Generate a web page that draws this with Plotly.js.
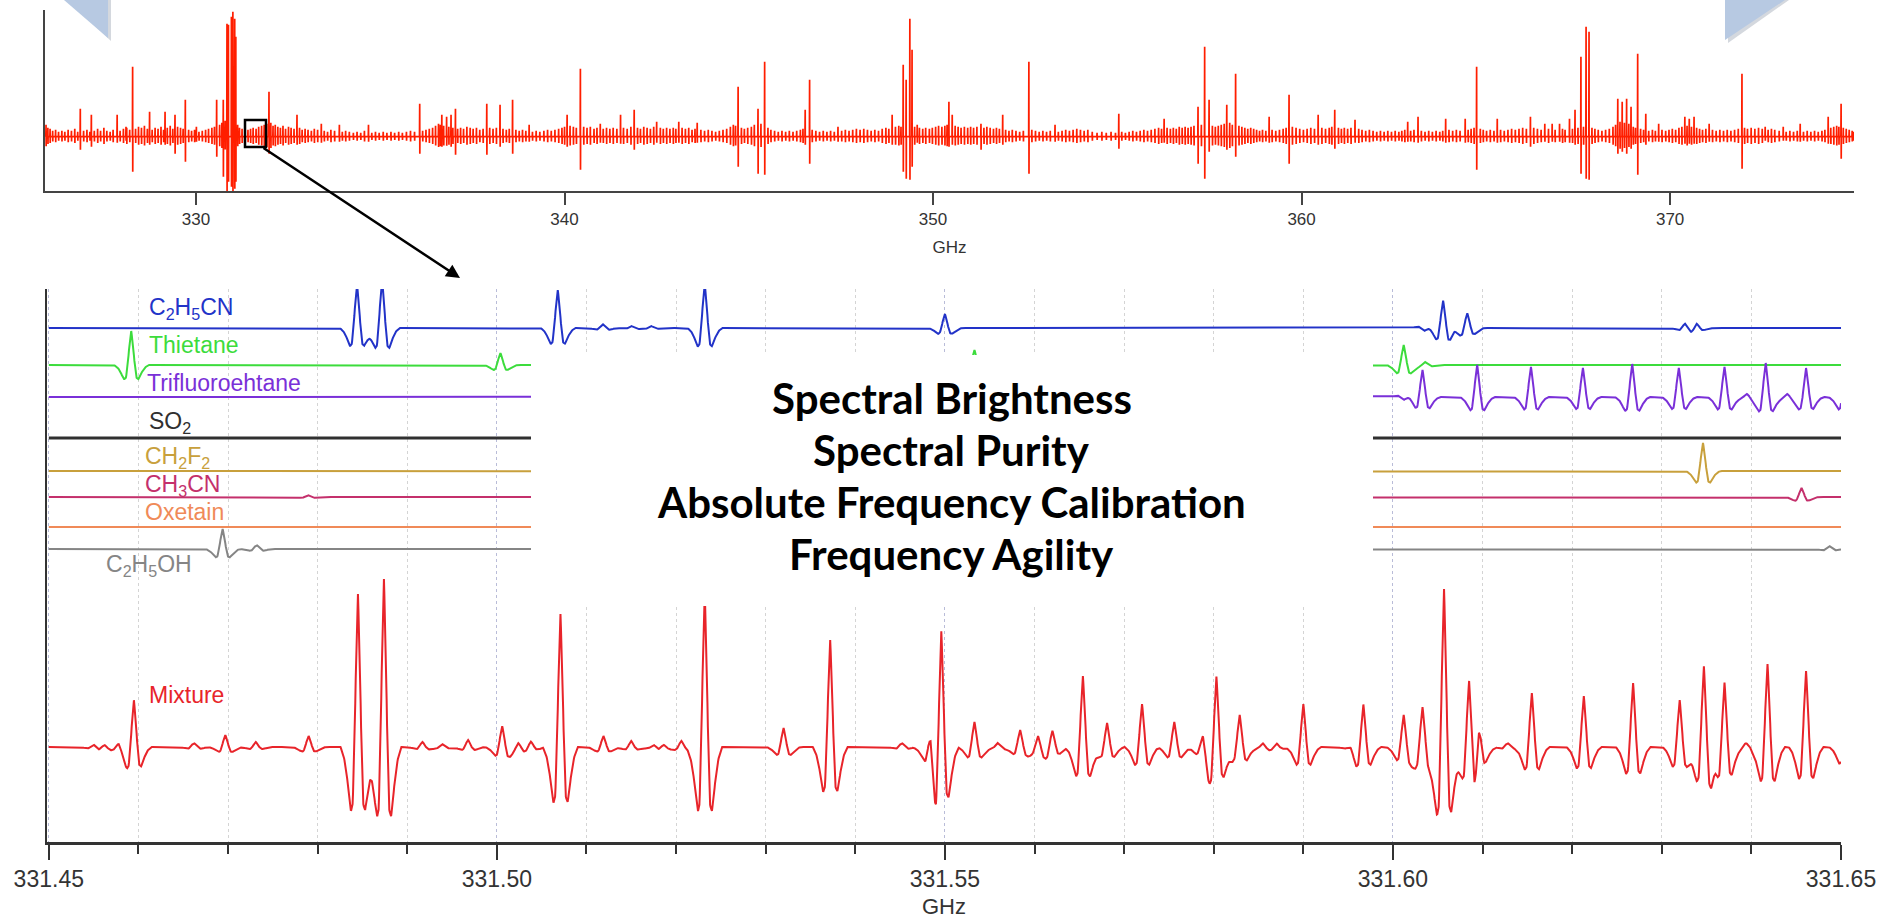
<!DOCTYPE html>
<html><head><meta charset="utf-8">
<script src="https://cdn.plot.ly/plotly-3.0.1.min.js"></script>
<style>html,body{margin:0;padding:0;background:#fff;}#chart{width:1883px;height:919px;}</style>
</head><body><div id="chart"></div>
<script>
// ================= DATA =================
// Overview spectrum 325.9 - 375 GHz : strong lines (GHz, up, down) in arbitrary units
const STRONG_FREQ = [326.86,327.16,327.86,328.10,328.28,328.74,329.16,329.43,329.71,330.01,330.56,330.74,330.84,330.88,330.96,331.00,331.05,331.08,331.98,332.74,333.40,333.89,334.68,336.07,336.67,336.80,336.92,337.04,337.89,338.25,338.59,339.04,340.07,340.43,340.97,341.52,341.89,342.50,343.10,343.60,344.71,345.25,345.43,346.53,346.65,347.42,348.89,349.19,349.27,349.37,349.43,349.57,350.43,350.52,351.30,351.89,352.60,353.31,355.04,356.27,357.19,357.37,357.49,357.97,358.21,359.12,359.66,360.45,360.90,361.45,362.88,363.16,363.91,364.44,364.75,365.31,366.21,366.60,366.80,367.00,367.27,367.42,367.58,367.72,367.80,368.58,368.70,368.82,368.94,369.12,369.34,369.69,370.40,370.52,370.65,371.06,371.95,372.58,373.07,373.53,374.29,374.64];
const STRONG_UP   = [28,22,22,10,70,25,25,22,37,10,37,37,113,112,120,125,118,100,45,22,13,12,12,33,22,20,22,28,33,32,37,12,22,68,13,22,27,15,15,14,50,28,75,27,57,10,22,72,57,118,87,12,35,22,13,22,75,12,23,18,30,90,37,32,63,20,42,22,27,17,15,20,18,18,70,18,20,13,13,13,18,27,80,110,105,38,35,38,30,83,23,13,20,18,20,13,63,10,10,13,20,33];
const STRONG_DOWN = [13,10,6,4,35,8,8,17,25,5,20,40,60,45,50,55,52,45,17,8,6,5,5,17,10,9,10,18,18,10,17,5,10,33,6,7,13,6,6,6,30,37,38,8,27,5,8,35,42,43,30,6,10,8,13,8,37,5,12,6,27,42,15,13,20,6,27,8,12,6,5,6,6,6,33,6,10,5,5,5,6,8,37,42,43,17,15,17,12,38,8,5,7,7,7,5,32,4,4,5,7,22];
// Overview spectrum : weak "grass" lines [GHz, amplitude]
const GRASS_LINES = [[325.93,12],[325.98,9],[326.04,8],[326.11,6],[326.19,7],[326.27,5],[326.36,6],[326.44,5],[326.53,7],[326.62,6],[326.71,8],[326.79,5],[326.95,6],[327.04,7],[327.12,5],[327.24,6],[327.33,8],[327.41,6],[327.50,9],[327.58,6],[327.67,5],[327.75,7],[327.94,6],[328.03,8],[328.12,9],[328.20,7],[328.36,8],[328.44,10],[328.52,9],[328.60,11],[328.68,8],[328.81,7],[328.89,9],[328.97,8],[329.05,10],[329.12,7],[329.22,9],[329.30,11],[329.37,8],[329.50,10],[329.58,9],[329.65,8],[329.80,7],[329.88,6],[329.96,7],[330.08,5],[330.17,6],[330.26,7],[330.34,8],[330.43,9],[330.50,10],[330.64,12],[330.70,14],[330.79,16],[331.13,12],[331.18,9],[331.25,8],[331.33,9],[331.41,7],[331.48,8],[331.55,9],[331.63,8],[331.70,10],[331.78,11],[331.85,12],[331.92,13],[332.03,14],[332.09,11],[332.15,12],[332.22,10],[332.29,9],[332.36,11],[332.43,8],[332.51,10],[332.58,9],[332.66,8],[332.81,9],[332.88,7],[332.96,8],[333.04,7],[333.13,6],[333.21,8],[333.30,7],[333.48,6],[333.57,5],[333.66,7],[333.76,6],[333.97,5],[334.06,6],[334.16,5],[334.27,4],[334.37,5],[334.47,4],[334.57,6],[334.77,4],[334.87,5],[334.97,4],[335.08,5],[335.18,4],[335.29,5],[335.39,4],[335.50,5],[335.60,4],[335.71,5],[335.82,6],[335.93,5],[336.15,6],[336.24,7],[336.33,8],[336.42,9],[336.50,11],[336.58,13],[336.63,12],[336.72,11],[336.86,10],[336.97,9],[337.10,8],[337.18,9],[337.26,8],[337.35,10],[337.44,9],[337.52,8],[337.61,9],[337.70,7],[337.79,8],[337.97,9],[338.06,8],[338.15,9],[338.33,8],[338.42,7],[338.50,8],[338.68,7],[338.77,6],[338.86,7],[338.95,6],[339.13,5],[339.23,6],[339.33,5],[339.44,6],[339.54,7],[339.64,6],[339.74,7],[339.84,8],[339.93,9],[340.00,10],[340.15,11],[340.24,10],[340.32,9],[340.52,10],[340.61,9],[340.70,10],[340.80,8],[340.88,9],[341.05,8],[341.14,9],[341.23,8],[341.32,9],[341.42,8],[341.60,9],[341.70,8],[341.80,10],[341.98,9],[342.06,8],[342.15,10],[342.24,9],[342.33,8],[342.42,10],[342.60,9],[342.68,8],[342.77,9],[342.86,8],[342.95,9],[343.02,8],[343.19,9],[343.28,8],[343.37,9],[343.46,7],[343.54,8],[343.70,7],[343.80,6],[343.90,7],[344.00,6],[344.10,5],[344.20,6],[344.30,7],[344.40,8],[344.50,10],[344.58,12],[344.64,11],[344.80,9],[344.88,8],[344.97,9],[345.07,10],[345.15,12],[345.33,13],[345.52,9],[345.60,7],[345.70,6],[345.80,5],[345.90,6],[346.00,5],[346.10,6],[346.20,5],[346.30,6],[346.40,7],[346.47,8],[346.72,7],[346.82,6],[346.92,5],[347.02,6],[347.12,5],[347.22,6],[347.32,5],[347.52,6],[347.62,7],[347.72,6],[347.82,7],[347.92,8],[348.02,7],[348.12,8],[348.22,7],[348.32,6],[348.42,7],[348.52,6],[348.62,8],[348.72,9],[348.80,8],[348.98,10],[349.07,11],[349.13,10],[349.50,10],[349.63,9],[349.72,8],[349.80,9],[349.90,8],[349.98,9],[350.07,10],[350.15,11],[350.24,10],[350.32,11],[350.38,12],[350.60,11],[350.68,10],[350.76,9],[350.85,10],[350.94,9],[351.02,10],[351.10,9],[351.19,10],[351.38,9],[351.46,10],[351.55,9],[351.64,8],[351.72,9],[351.80,8],[351.97,7],[352.06,6],[352.15,7],[352.25,6],[352.35,5],[352.45,6],[352.68,7],[352.78,6],[352.88,5],[352.98,6],[353.08,5],[353.18,6],[353.40,5],[353.50,6],[353.60,7],[353.70,6],[353.80,7],[353.90,8],[354.00,7],[354.10,6],[354.20,7],[354.32,5],[354.45,4],[354.58,5],[354.70,4],[354.83,5],[354.95,4],[355.12,5],[355.22,4],[355.32,5],[355.42,6],[355.52,5],[355.62,6],[355.72,7],[355.82,6],[355.92,7],[356.02,8],[356.12,9],[356.20,8],[356.35,9],[356.44,8],[356.52,9],[356.60,8],[356.68,10],[356.76,9],[356.84,10],[356.92,9],[357.00,10],[357.08,11],[357.28,12],[357.58,11],[357.66,10],[357.74,11],[357.82,12],[357.90,13],[358.05,14],[358.12,12],[358.30,11],[358.38,10],[358.46,9],[358.54,8],[358.62,9],[358.70,8],[358.78,7],[358.86,6],[358.94,7],[359.03,6],[359.20,7],[359.30,6],[359.40,7],[359.50,8],[359.58,9],[359.75,10],[359.85,9],[359.95,8],[360.05,7],[360.15,8],[360.25,9],[360.35,8],[360.55,9],[360.65,8],[360.75,9],[360.82,10],[361.00,9],[361.08,8],[361.16,9],[361.25,8],[361.34,9],[361.55,8],[361.64,7],[361.74,6],[361.84,7],[361.94,6],[362.04,5],[362.14,6],[362.24,5],[362.34,6],[362.44,5],[362.54,6],[362.64,5],[362.72,6],[362.80,7],[362.96,6],[363.05,7],[363.25,6],[363.35,5],[363.45,6],[363.55,5],[363.65,6],[363.75,5],[363.83,6],[364.00,7],[364.10,6],[364.20,7],[364.30,6],[364.52,7],[364.60,8],[364.68,9],[364.85,8],[364.93,7],[365.02,6],[365.12,7],[365.22,6],[365.40,7],[365.50,6],[365.60,7],[365.70,8],[365.80,7],[365.90,8],[366.00,9],[366.10,8],[366.30,9],[366.40,8],[366.50,7],[366.70,8],[366.88,7],[367.08,8],[367.15,7],[367.35,8],[367.50,9],[367.65,10],[367.88,9],[367.96,8],[368.05,7],[368.15,6],[368.25,7],[368.35,8],[368.45,10],[368.52,12],[368.64,15],[368.76,14],[368.88,13],[369.00,10],[369.06,9],[369.20,8],[369.28,7],[369.42,6],[369.52,7],[369.60,6],[369.78,7],[369.88,6],[369.97,7],[370.06,8],[370.15,7],[370.24,9],[370.32,10],[370.46,11],[370.58,10],[370.72,9],[370.80,8],[370.88,7],[370.97,8],[371.15,7],[371.25,6],[371.35,7],[371.45,6],[371.55,7],[371.65,6],[371.75,7],[371.85,8],[372.02,9],[372.10,8],[372.20,9],[372.30,8],[372.40,9],[372.50,8],[372.66,7],[372.75,8],[372.84,7],[372.96,6],[373.15,5],[373.25,6],[373.35,5],[373.45,6],[373.62,5],[373.72,6],[373.82,5],[373.92,6],[374.02,5],[374.12,6],[374.20,7],[374.36,9],[374.44,10],[374.52,11],[374.58,10],[374.70,9],[374.78,8],[374.86,7],[374.94,6],[374.98,5]];

// Zoomed window 331.45 - 331.65 GHz : line lists per species (GHz, intensity)
const C2H5CN_FREQ  = [331.4844,331.4872,331.5068,331.5118,331.5150,331.5172,331.5232,331.5500,331.6035,331.6056,331.6068,331.6083,331.6326,331.6339];
const C2H5CN_AMP   = [43,48,38,4,2,2,44,14,-3,28,3,15,5,5];
const THIETANE_FREQ = [331.4592,331.5004,331.5533,331.6012,331.6036];
const THIETANE_AMP  = [34,12,15,20,3];
const TRIFLUORO_FREQ = [331.6012,331.6033,331.6094,331.6154,331.6212,331.6267,331.6319,331.6370,331.6395,331.6416,331.6440,331.6461,331.6505];
const TRIFLUORO_AMP  = [-3,27,32,30,29,33,29,30,3,34,3,29,30];
const SO2_FREQ = [];
const SO2_AMP  = [];
const CH2F2_FREQ = [331.6346];
const CH2F2_AMP  = [28];
const CH3CN_FREQ = [331.4789,331.6456];
const CH3CN_AMP  = [2,9];
const OXETAIN_FREQ = [];
const OXETAIN_AMP  = [];
const C2H5OH_FREQ = [331.4694,331.4732,331.6487];
const C2H5OH_AMP  = [20,4,3];
const MIXTURE_FREQ = [331.4550,331.4562,331.4578,331.4595,331.4662,331.4697,331.4731,331.4790,331.4845,331.4874,331.4917,331.4939,331.4968,331.5006,331.5024,331.5038,331.5071,331.5119,331.5150,331.5175,331.5186,331.5206,331.5232,331.5320,331.5372,331.5452,331.5484,331.5496,331.5533,331.5559,331.5584,331.5604,331.5620,331.5654,331.5681,331.5720,331.5756,331.5788,331.5803,331.5829,331.5855,331.5870,331.5900,331.5953,331.5967,331.6012,331.6033,331.6057,331.6085,331.6096,331.6128,331.6155,331.6213,331.6268,331.6320,331.6347,331.6360,331.6370,331.6394,331.6418,331.6461,331.6506];
const MIXTURE_AMP  = [3,3,5,47,4,12,5,11,153,168,5,3,7,21,5,6,133,11,6,3,3,6,155,19,107,4,31,122,25,4,17,12,17,71,24,43,25,17,72,32,4,4,43,4,43,32,40,158,75,34,4,54,51,64,47,82,8,67,4,83,76,40];

const SPECIES_LABELS = ['C<sub>2</sub>H<sub>5</sub>CN','Thietane','Trifluoroehtane','SO<sub>2</sub>','CH<sub>2</sub>F<sub>2</sub>','CH<sub>3</sub>CN','Oxetain','C<sub>2</sub>H<sub>5</sub>OH','Mixture'];
const SPECIES_FREQ = [C2H5CN_FREQ,THIETANE_FREQ,TRIFLUORO_FREQ,SO2_FREQ,CH2F2_FREQ,CH3CN_FREQ,OXETAIN_FREQ,C2H5OH_FREQ,MIXTURE_FREQ];
const SPECIES_AMP  = [C2H5CN_AMP,THIETANE_AMP,TRIFLUORO_AMP,SO2_AMP,CH2F2_AMP,CH3CN_AMP,OXETAIN_AMP,C2H5OH_AMP,MIXTURE_AMP];

const BOX_TEXT = ['Spectral Brightness','Spectral Purity','Absolute Frequency Calibration','Frequency Agility'];

// line-shape profile (second-derivative line shape: offset in widths -> relative height)
const LINE_SHAPE_T = [-5,-4.5,-4,-3.5,-3,-2.5,-2,-1.5,-1,-0.5,0,0.5,1,1.5,2,2.5,3,3.5,4,4.5,5];
const LINE_SHAPE_V = [0,-0.03,-0.07,-0.13,-0.22,-0.34,-0.42,-0.37,0,0.62,1,0.62,0,-0.37,-0.42,-0.34,-0.22,-0.13,-0.07,-0.03,0];
const LINE_WIDTH_GHZ = 0.00039;

// ================= STYLE / LAYOUT =================
const W = 1883, H = 919;
const px = v => v / W, py = v => 1 - v / H;
const TOP_RANGE = [325.902, 374.99];
const ZOOM_RANGE = [331.4498, 331.65];
const BASELINES = [514,477,445,404,371,345,315,293,95];
const COLORS = ['#2233c8','#3cdc3c','#7a30d8','#303030','#c8a03c','#c4306c','#f08a58','#858585','#e8242a'];
const WIDTHS = [2,2,2,3,2,2,2,2,2];
const LABEL_POS = [[147,308],[147,345],[145,383],[147,422],[143,457],[143,485],[143,512],[104,565],[147,695]];

function overview() {
  const lines = [];
  STRONG_FREQ.forEach((f,i)=>lines.push([f, STRONG_UP[i], -STRONG_DOWN[i]]));
  GRASS_LINES.forEach(g=>lines.push([g[0], g[1], -0.8*g[1]]));
  lines.sort((a,b)=>a[0]-b[0]);
  const x=[], y=[], e=0.006;
  for (const [f,u,d] of lines) { x.push(f-e,f,f+e*0.5,f+e); y.push(0,u,d,0); }
  return {x, y};
}
function shape(t) {
  const T=LINE_SHAPE_T, V=LINE_SHAPE_V;
  if (t<=T[0] || t>=T[T.length-1]) return 0;
  for (let k=1;k<T.length;k++) if (t<=T[k]) { const u=(t-T[k-1])/(T[k]-T[k-1]); return V[k-1]+u*(V[k]-V[k-1]); }
  return 0;
}
function zoomTrace(freqs, amps, base) {
  const step = 0.00005, n = Math.round((331.65-331.45)/step);
  const x=[], y=[];
  for (let i=0;i<=n;i++) {
    const xi = 331.45 + i*step; let s = 0;
    for (let j=0;j<freqs.length;j++) s += amps[j]*shape((xi-freqs[j])/LINE_WIDTH_GHZ);
    x.push(xi); y.push(base+s);
  }
  return {x, y};
}

const traces = [];
const ov = overview();
traces.push({type:'scatter', mode:'lines', x:ov.x, y:ov.y, xaxis:'x', yaxis:'y',
  line:{color:'#ff1e00', width:1.7}, hoverinfo:'skip', showlegend:false});
SPECIES_FREQ.forEach((fr,i)=>{
  const t = zoomTrace(fr, SPECIES_AMP[i], BASELINES[i]);
  traces.push({type:'scatter', mode:'lines', x:t.x, y:t.y, xaxis:'x2', yaxis:'y2',
    line:{color:COLORS[i], width:WIDTHS[i]}, hoverinfo:'skip', showlegend:false});
});

const annotations = [];
SPECIES_LABELS.forEach((s,i)=>annotations.push({xref:'paper', yref:'paper', x:px(LABEL_POS[i][0]), y:py(LABEL_POS[i][1]),
  xanchor:'left', yanchor:'middle', text:s, showarrow:false, font:{family:'Liberation Sans, Arial, sans-serif', size:23, color:COLORS[i]}}));
const boxY = [398,450,502,554];
BOX_TEXT.forEach((s,i)=>annotations.push({xref:'paper', yref:'paper', x:px(952), y:py(boxY[i]), xanchor:'center', yanchor:'middle',
  text:'<b>'+s+'</b>', showarrow:false, font:{family:'Lato, Open Sans, sans-serif', size:42, color:'#000'}}));
annotations.push({xref:'paper', yref:'paper', x:px(460), y:py(278), ax:-198, ay:-131, text:'', showarrow:true,
  arrowhead:2, arrowsize:1.1, arrowwidth:2.5, arrowcolor:'#000', standoff:0, startstandoff:0});

function tri(pts){ return 'M '+pts.map(p=>px(p[0])+' '+py(p[1])).join(' L ')+' Z'; }
const shapes = [
  {type:'path', xref:'paper', yref:'paper', path:tri([[67,0],[111,0],[111,41]]), fillcolor:'#d4d8de', line:{width:0}, layer:'above'},
  {type:'path', xref:'paper', yref:'paper', path:tri([[64,0],[108,0],[108,38]]), fillcolor:'#b7c9e2', line:{width:0}, layer:'above'},
  {type:'path', xref:'paper', yref:'paper', path:tri([[1728,0],[1728,43],[1789,0]]), fillcolor:'#d4d8de', line:{width:0}, layer:'above'},
  {type:'path', xref:'paper', yref:'paper', path:tri([[1725,0],[1725,40],[1785,0]]), fillcolor:'#b7c9e2', line:{width:0}, layer:'above'},
  {type:'rect', xref:'paper', yref:'paper', x0:px(531), x1:px(1373), y0:py(606), y1:py(355), fillcolor:'#ffffff', line:{width:0}, layer:'above'},
  {type:'rect', xref:'paper', yref:'paper', x0:px(245), x1:px(266), y0:py(147), y1:py(120), fillcolor:'rgba(0,0,0,0)', line:{color:'#000', width:2.5}, layer:'above'}
];

const layout = {
  width:W, height:H, margin:{l:0,r:0,t:0,b:0}, paper_bgcolor:'#fff', plot_bgcolor:'rgba(0,0,0,0)', showlegend:false,
  font:{family:'Liberation Sans, Arial, sans-serif', color:'#333'},
  xaxis:{domain:[px(45),px(1854)], range:TOP_RANGE, anchor:'y', showline:true, linecolor:'#444', linewidth:2,
    ticks:'outside', ticklen:12, tickwidth:2, tickcolor:'#444', dtick:10, tick0:0, tickfont:{size:17, color:'#333'},
    showgrid:false, zeroline:false, title:{text:'GHz', font:{size:17, color:'#333'}, standoff:13}},
  yaxis:{domain:[py(191),py(10)], range:[-54.3,126.7], anchor:'x', showline:true, linecolor:'#444', linewidth:2,
    ticks:'', showticklabels:false, showgrid:false, zeroline:false},
  xaxis2:{domain:[px(47),px(1841)], range:ZOOM_RANGE, anchor:'y2', showline:true, linecolor:'#333', linewidth:2.5,
    ticks:'outside', ticklen:15, tickwidth:2, tickcolor:'#333', dtick:0.05, tick0:331.45, tickformat:'.2f',
    tickfont:{size:23, color:'#333'}, showgrid:true, gridcolor:'#b9bcd8', griddash:'dot', gridwidth:1, zeroline:false,
    minor:{dtick:0.01, tick0:331.45, ticks:'outside', ticklen:9, tickwidth:2, tickcolor:'#333', showgrid:true, gridcolor:'#d4d4d4', griddash:'dot', gridwidth:1},
    title:{text:'GHz', font:{size:22, color:'#333'}, standoff:10}},
  yaxis2:{domain:[py(842),py(289)], range:[0,553], anchor:'x2', showline:true, linecolor:'#333', linewidth:2.5,
    ticks:'', showticklabels:false, showgrid:false, zeroline:false},
  shapes, annotations
};
Plotly.newPlot('chart', traces, layout, {displayModeBar:false, staticPlot:true});
</script></body></html>
